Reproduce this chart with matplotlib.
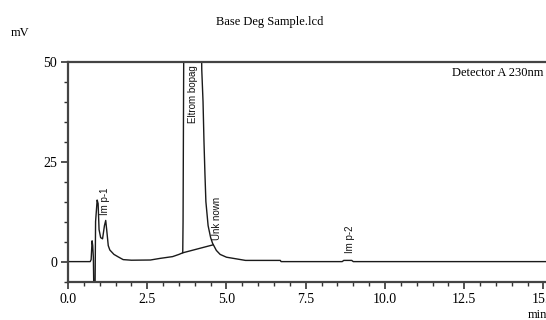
import matplotlib
matplotlib.use("Agg")
import matplotlib.pyplot as plt
from matplotlib.ticker import MultipleLocator, FormatStrFormatter

# Chromatogram trace (time in min, signal in mV)
time_min = [0.00, 0.70, 0.73, 0.76, 0.78, 0.80, 0.82, 0.85, 0.87, 0.92, 0.95,
            0.98, 1.03, 1.09, 1.15, 1.19, 1.22, 1.27, 1.32, 1.45, 1.58, 1.74,
            2.00, 2.60, 2.90, 3.30, 3.50, 3.62, 3.63, 3.64, 3.65, 3.70, 3.90,
            4.10, 4.21, 4.22, 4.26, 4.29, 4.32, 4.35, 4.42, 4.50, 4.56, 4.60,
            4.68, 4.80, 5.00, 5.30, 5.60, 6.70, 6.72, 8.65, 8.70, 8.95, 9.00,
            15.2]
signal_mv = [0.0, 0.0, 0.5, 5.2, 4.0, 1.0, -10.0, -10.0, 10.0, 15.4, 14.5,
             8.0, 6.0, 5.7, 9.0, 10.3, 8.0, 4.0, 2.9, 1.8, 1.2, 0.5,
             0.35, 0.4, 0.8, 1.25, 1.8, 2.2, 10.0, 30.0, 50.0, 120.0, 200.0,
             120.0, 55.0, 48.0, 40.0, 30.0, 22.0, 15.0, 9.0, 6.0, 4.6, 4.0,
             2.8, 1.8, 1.1, 0.7, 0.3, 0.3, 0.0, 0.0, 0.3, 0.3, 0.0,
             0.0]

# Integration baseline under the main peak
base_t = [3.62, 4.58]
base_v = [2.2, 4.2]

# Peak labels
peak_names = ["Im p-1", "Eltrom bopag", "Unk nown", "Im p-2"]
peak_t = [1.18, 3.94, 4.70, 8.90]
peak_y = [11.7, 49.0, 5.4, 2.2]
peak_va = ["bottom", "top", "bottom", "bottom"]

xticks = [0.0, 2.5, 5.0, 7.5, 10.0, 12.5, 15.0]
yticks = [0, 25, 50]

W, H = 546, 320
fig = plt.figure(figsize=(W / 100, H / 100), dpi=100)
ax = fig.add_axes([68 / W, 1 - 282 / H, 1 - 68 / W, 220.3 / H])

ax.plot(time_min, signal_mv, color="#1a1a1a", lw=1.0, clip_on=True)
ax.plot(base_t, base_v, color="#1a1a1a", lw=1.0)

ax.set_xlim(0, 15.08)
ax.set_ylim(-5.1, 50)

ax.set_xticks(xticks)
ax.set_yticks(yticks)
ax.xaxis.set_major_formatter(FormatStrFormatter("%.1f"))
ax.xaxis.set_minor_locator(MultipleLocator(0.5))
ax.yaxis.set_minor_locator(MultipleLocator(5))

serif = "Liberation Serif"
for lab in ax.get_xticklabels() + ax.get_yticklabels():
    lab.set_fontfamily(serif)
    lab.set_fontsize(10)
ax.tick_params(which="major", direction="out", length=5, width=1.2, color="#333333", pad=3)
ax.tick_params(which="minor", direction="out", length=3, width=1.0, color="#333333")

for side in ["left", "bottom", "top"]:
    ax.spines[side].set_linewidth(1.6)
    ax.spines[side].set_color("#444444")
ax.spines["right"].set_visible(False)

for name, t, y, va in zip(peak_names, peak_t, peak_y, peak_va):
    ax.text(t, y, name, rotation=90, ha="center", va=va, fontsize=7,
            family="Liberation Sans", color="#111111")

fig.text(452 / W, 1 - 73 / H, "Detector A 230nm", ha="left", va="center",
         fontsize=9, family=serif)
fig.text(270 / W, 1 - 22 / H, "Base Deg Sample.lcd", ha="center", va="center",
         fontsize=9, family=serif)
fig.text(20 / W, 1 - 33 / H, "mV", ha="center", va="center", fontsize=9, family=serif)
fig.text(528 / W, 1 - 315 / H, "min", ha="left", va="center", fontsize=9, family=serif)

fig.savefig("out.png", dpi=100)
